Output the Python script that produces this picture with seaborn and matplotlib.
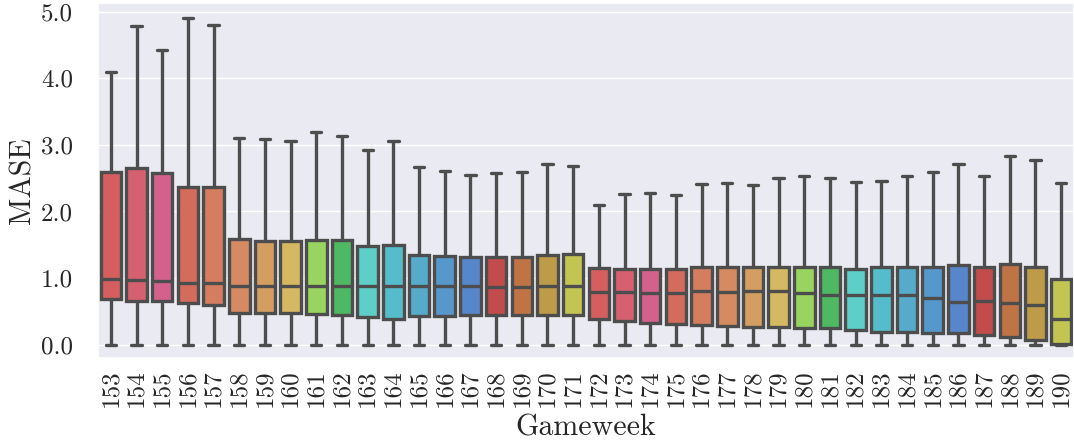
import numpy as np
import pandas as pd
import matplotlib
matplotlib.use("Agg")
import matplotlib.pyplot as plt
from matplotlib.ticker import FormatStrFormatter
import seaborn as sns

# ─── Data ────────────────────────────────────────────────────────────────────
gameweeks = list(range(153, 191))

whisker_lo = [0.0] * 38
q1 = [0.68, 0.65, 0.65, 0.62, 0.59, 0.48, 0.47, 0.47, 0.46, 0.44,
      0.41, 0.38, 0.43, 0.43, 0.45, 0.45, 0.45, 0.45, 0.45, 0.39,
      0.35, 0.32, 0.31, 0.29, 0.28, 0.26, 0.27, 0.25, 0.25, 0.22,
      0.19, 0.19, 0.18, 0.17, 0.14, 0.11, 0.07, 0.01]
median = [0.98, 0.97, 0.95, 0.93, 0.93, 0.88, 0.88, 0.88, 0.88, 0.88,
          0.88, 0.88, 0.88, 0.88, 0.88, 0.87, 0.87, 0.88, 0.88, 0.79,
          0.79, 0.78, 0.78, 0.80, 0.79, 0.80, 0.80, 0.78, 0.74, 0.75,
          0.75, 0.74, 0.70, 0.64, 0.65, 0.63, 0.59, 0.38]
q3 = [2.59, 2.65, 2.58, 2.36, 2.37, 1.58, 1.56, 1.56, 1.57, 1.57,
      1.48, 1.49, 1.35, 1.33, 1.32, 1.32, 1.31, 1.35, 1.36, 1.15,
      1.14, 1.14, 1.14, 1.16, 1.17, 1.16, 1.16, 1.17, 1.16, 1.14,
      1.16, 1.16, 1.16, 1.19, 1.17, 1.21, 1.16, 0.99]
whisker_hi = [4.09, 4.78, 4.43, 4.91, 4.80, 3.10, 3.09, 3.06, 3.19, 3.13,
              2.93, 3.06, 2.67, 2.61, 2.55, 2.58, 2.59, 2.71, 2.68, 2.09,
              2.26, 2.28, 2.25, 2.41, 2.43, 2.40, 2.50, 2.53, 2.50, 2.44,
              2.45, 2.54, 2.59, 2.72, 2.53, 2.83, 2.77, 2.43]

base_colors = ["#d55f5f", "#d5606f", "#d4618c", "#d56b5d", "#d57d5f",
               "#d58a62", "#d49d62", "#d4b862", "#98d45f", "#4fb862",
               "#5dcec8", "#55bccc", "#56abcb", "#5698cc", "#5786cb",
               "#c24c4b", "#c07445", "#be9b48", "#c2c552"]

# ─── Long table: five points per gameweek reproduce each box exactly ─────────
rows = []
for i, gw in enumerate(gameweeks):
    for v in (whisker_lo[i], q1[i], median[i], q3[i], whisker_hi[i]):
        rows.append({"Gameweek": str(gw), "MASE": v})
df = pd.DataFrame(rows)

order = [str(g) for g in gameweeks]
palette = {g: base_colors[i % len(base_colors)] for i, g in enumerate(order)}

# ─── Style ───────────────────────────────────────────────────────────────────
sns.set_theme(style="darkgrid")
plt.rcParams["font.family"] = ["cmr10", "DejaVu Serif"]
plt.rcParams["mathtext.fontset"] = "cm"
plt.rcParams["axes.formatter.use_mathtext"] = True

fig = plt.figure(figsize=(10.74, 4.42), dpi=100)
ax = fig.add_axes([98 / 1074, 84 / 442, 976 / 1074, 355 / 442])

sns.boxplot(data=df, x="Gameweek", y="MASE", hue="Gameweek", order=order,
            hue_order=order, palette=palette, saturation=1, legend=False,
            whis=(0, 100), showfliers=False, width=0.8, linewidth=2.4,
            linecolor="#4d4d4d", ax=ax)

ax.set_ylim(-0.2, 5.13)
ax.set_yticks([0, 1, 2, 3, 4, 5])
ax.yaxis.set_major_formatter(FormatStrFormatter("%.1f"))
ax.tick_params(axis="y", labelsize=18, pad=12, colors="#262626")
ax.tick_params(axis="x", labelsize=18, pad=2, rotation=90, colors="#262626")
ax.set_ylabel("MASE", fontsize=21.5, labelpad=3)
ax.set_xlabel("Gameweek", fontsize=21.5, labelpad=5)

fig.savefig("out.png", dpi=100)
plt.close(fig)
